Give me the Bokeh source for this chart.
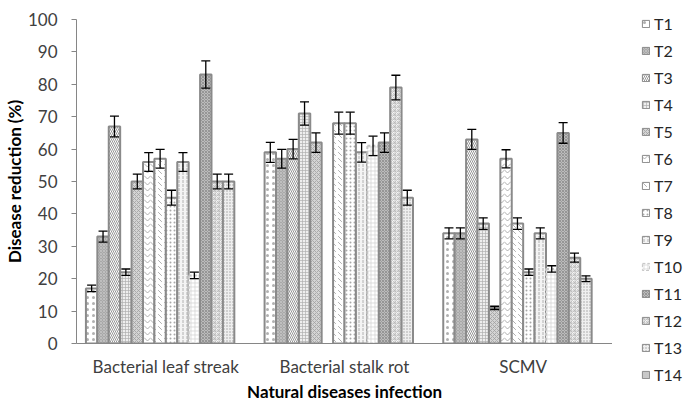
from bokeh.plotting import figure
from bokeh.models import (ColumnDataSource, FactorRange, Range1d, Whisker, TeeHead,
                          Legend, LegendItem)
from bokeh.layouts import row, column
from bokeh.transform import dodge
from bokeh.embed import file_html
from bokeh.resources import INLINE
import math

# ---------------- data ----------------
categories = ["Bacterial leaf streak", "Bacterial stalk rot", "SCMV"]
treatments = ["T1", "T2", "T3", "T4", "T5", "T6", "T7",
              "T8", "T9", "T10", "T11", "T12", "T13", "T14"]

leaf_streak = [17, 33, 67, 22, 50, 56, 57, 45, 56, 21, 83, 50, 50, None]
stalk_rot = [59, 57, 60, 71, 62, None, 68, 68, 59, 61, 62, 79, 45, None]
scmv = [34, 34, 63, 37, 11, 57, 37, 22, 34, 23, 65, 26.5, 20, None]

leaf_streak_err = [1.0, 1.7, 3.2, 1.0, 2.3, 2.9, 2.9, 2.3, 2.9, 1.0, 4.2, 2.3, 2.3, None]
stalk_rot_err = [3.1, 2.9, 3.0, 3.6, 3.0, None, 3.4, 3.4, 3.0, 3.0, 3.0, 3.8, 2.3, None]
scmv_err = [1.7, 1.7, 3.1, 1.8, 0.5, 2.8, 1.8, 1.0, 1.7, 1.0, 3.2, 1.4, 0.9, None]

# ---------------- styles ----------------
styles = [
    dict(fill_color="white", hatch_pattern=".", hatch_scale=6, hatch_color="#b0b0b0", hatch_weight=0.7),
    dict(fill_color="#a8a8a8", hatch_pattern="x", hatch_scale=3, hatch_color="#c8c8c8", hatch_weight=0.7),
    dict(fill_color="white", hatch_pattern="\\", hatch_scale=4, hatch_color="#8a8a8a", hatch_weight=0.9),
    dict(fill_color="#eeeeee", hatch_pattern="+", hatch_scale=3, hatch_color="#b0b0b0", hatch_weight=0.7),
    dict(fill_color="#d4d4d4", hatch_pattern="x", hatch_scale=4, hatch_color="#a0a0a0", hatch_weight=0.8),
    dict(fill_color="white", hatch_pattern="v", hatch_scale=6, hatch_color="#9a9a9a", hatch_weight=0.8),
    dict(fill_color="white", hatch_pattern="`", hatch_scale=6, hatch_color="#9a9a9a", hatch_weight=0.8),
    dict(fill_color="white", hatch_pattern=".", hatch_scale=4, hatch_color="#a8a8a8", hatch_weight=0.7),
    dict(fill_color="#f4f4f4", hatch_pattern=":", hatch_scale=4, hatch_color="#a0a0a0", hatch_weight=0.8),
    dict(fill_color="white", hatch_pattern="+", hatch_scale=4, hatch_color="#d0d0d0", hatch_weight=0.7),
    dict(fill_color="#bcbcbc", hatch_pattern="x", hatch_scale=3, hatch_color="#8c8c8c", hatch_weight=0.8),
    dict(fill_color="#f6f6f6", hatch_pattern="*", hatch_scale=4, hatch_color="#b4b4b4", hatch_weight=0.7),
    dict(fill_color="#efefef", hatch_pattern=".", hatch_scale=3, hatch_color="#a0a0a0", hatch_weight=0.7),
    dict(fill_color="#c8c8c8", hatch_pattern=" ", hatch_scale=4, hatch_color="#c8c8c8", hatch_weight=0.7),
]

FONT = "Lato"

p = figure(width=612, height=404, x_range=FactorRange(*categories),
           y_range=Range1d(0, 100), output_backend="svg", toolbar_location=None,
           min_border_left=72, min_border_right=0, min_border_top=19, min_border_bottom=59)
p.outline_line_color = None
p.xgrid.grid_line_color = None
p.ygrid.grid_line_color = None
p.background_fill_color = "white"

# separate narrow panel that only carries the legend
lg = figure(width=71, height=404, x_range=Range1d(0, 1), y_range=Range1d(0, 1),
            output_backend="svg", toolbar_location=None,
            x_axis_location=None, y_axis_location=None,
            min_border_left=0, min_border_right=0, min_border_top=0, min_border_bottom=0)
lg.grid.visible = False
lg.outline_line_color = None

n = len(treatments)
bw = 1.0 / (n + 1.65)

def nan(v):
    return float("nan") if v is None else v

items = []
for i, t in enumerate(treatments):
    vals = [nan(leaf_streak[i]), nan(stalk_rot[i]), nan(scmv[i])]
    errs = [nan(leaf_streak_err[i]), nan(stalk_rot_err[i]), nan(scmv_err[i])]
    src = ColumnDataSource(dict(
        cat=categories, top=vals,
        upper=[v + e for v, e in zip(vals, errs)],
        lower=[v - e for v, e in zip(vals, errs)],
    ))
    off = (i - (n - 1) / 2) * bw
    st = styles[i]
    lc = "#c4c4c4" if t == "T10" else "#8a8a8a"
    dash = "3 2" if t == "T10" else "solid"
    p.vbar(x=dodge("cat", off, range=p.x_range), top="top", bottom=0, width=bw,
           source=src, line_color=lc, line_width=2, line_dash=dash, **st)
    # legend swatch renderer (a single empty bar, nothing visible in the panel)
    lr = lg.vbar(x=[0.5], top=[float("nan")], bottom=0, width=0.1,
                 line_color=lc, line_width=1, line_dash=dash, **st)
    items.append(LegendItem(label=t, renderers=[lr]))
    if not all(math.isnan(v) for v in vals):
        w = Whisker(base=dodge("cat", off, range=p.x_range), upper="upper", lower="lower",
                    source=src, line_color="black", line_width=1.3, level="overlay",
                    upper_head=TeeHead(size=9, line_color="black", line_width=1.3),
                    lower_head=TeeHead(size=9, line_color="black", line_width=1.3))
        p.add_layout(w)

legend = Legend(items=items, location=(29, 16), padding=0, margin=0,
                glyph_width=9, glyph_height=9, label_height=27, spacing=0,
                label_standoff=4, label_text_font=FONT, label_text_font_size="16px",
                label_text_color="#262626", border_line_color=None,
                background_fill_alpha=0)
lg.add_layout(legend)

# axes
for ax in (p.xaxis[0], p.yaxis[0]):
    ax.axis_line_color = "#868686"
    ax.major_tick_line_color = "#868686"
    ax.minor_tick_line_color = None
    ax.major_label_text_font = FONT
    ax.major_label_text_font_size = "17px"
    ax.major_label_text_color = "#404040"
    ax.axis_label_text_font = FONT
    ax.axis_label_text_font_size = "17px"
    ax.axis_label_text_font_style = "bold"
    ax.axis_label_text_color = "black"

p.yaxis.ticker = list(range(0, 101, 10))
p.yaxis.major_tick_out = 5
p.yaxis.major_tick_in = 0
p.yaxis.major_label_standoff = 14
p.yaxis.axis_label = "Disease reduction (%)"
p.yaxis.axis_label_standoff = 0

p.xaxis.major_tick_line_color = None
p.xaxis.major_tick_out = 0
p.xaxis.major_tick_in = 0
p.xaxis.major_label_standoff = 12
p.xaxis.axis_label = "Natural diseases infection"
p.xaxis.axis_label_standoff = 1
p.x_range.range_padding = 0

layout = row(p, column(lg, spacing=0), spacing=0)
open("out.html", "w").write(file_html(layout, INLINE))
